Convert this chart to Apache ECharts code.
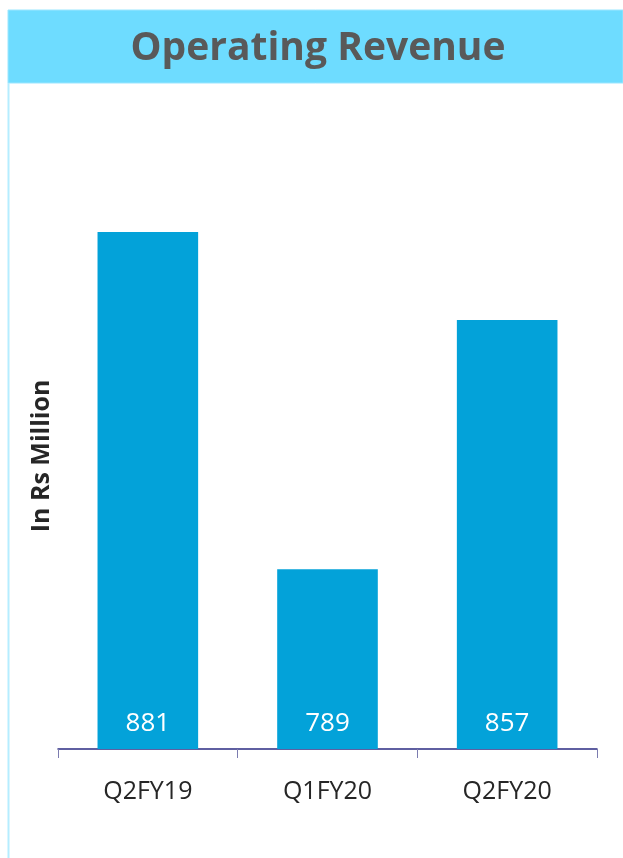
<!DOCTYPE html>
<html><head><meta charset="utf-8">
<script src="https://cdn.jsdelivr.net/npm/echarts@6/dist/echarts.min.js"></script>
<style>html,body{margin:0;padding:0;background:#fff}#c{width:623px;height:858px}</style>
</head><body><div id="c"></div>
<script>
const categories = ["Q2FY19", "Q1FY20", "Q2FY20"];
const revenue = [881, 789, 857];
const titleText = "Operating Revenue";
const yAxisName = "In Rs Million";

const chart = echarts.init(document.getElementById('c'), null, {renderer: 'canvas'});
chart.setOption({
  animation: false,
  backgroundColor: '#ffffff',
  graphic: [
    {type: 'rect', shape: {x: 8, y: 10, width: 615, height: 73}, style: {fill: '#6EDCFF', stroke: '#9BE6FF', lineWidth: 1}, z: 0},
    {type: 'line', shape: {x1: 8.5, y1: 83, x2: 8.5, y2: 858}, style: {stroke: '#B5EDFF', lineWidth: 2}, z: 0},
    {type: 'text', x: 318, y: 49, style: {text: titleText, fill: '#595959', font: 'bold 39px "Open Sans"', textAlign: 'center', textVerticalAlign: 'middle'}, z: 5},
    {type: 'text', x: 42, y: 456, rotation: Math.PI / 2, style: {text: yAxisName, fill: '#262626', font: 'bold 25px "Open Sans"', textAlign: 'center', textVerticalAlign: 'middle'}, z: 5}
  ],
  grid: {left: 58, right: 26, top: 100, bottom: 109},
  xAxis: {
    type: 'category', data: categories,
    axisLine: {lineStyle: {color: '#2B2B82', width: 1.5}},
    axisTick: {show: true, length: 9, lineStyle: {color: '#7C7CB0'}},
    axisLabel: {color: '#262626', fontSize: 25, fontFamily: 'Open Sans', margin: 30}
  },
  yAxis: {
    type: 'value', min: 740, max: 917, show: false, splitLine: {show: false}
  },
  series: [{
    type: 'bar', data: revenue, barCategoryGap: '44%',
    itemStyle: {color: '#03A2D9'},
    label: {show: true, position: 'insideBottom', distance: 12, color: '#ffffff', fontSize: 26, fontFamily: 'Open Sans'}
  }]
});
</script></body></html>
